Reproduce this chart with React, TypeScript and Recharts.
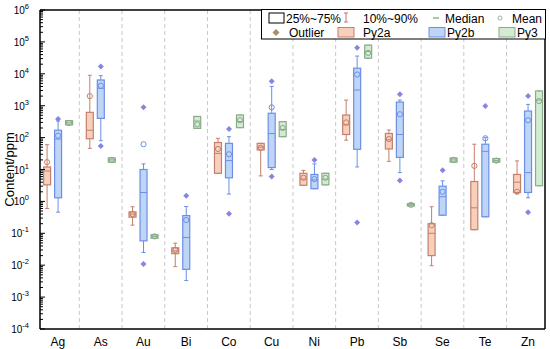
import React from 'react';
import { ComposedChart, Bar, XAxis, YAxis, ReferenceLine, Label } from 'recharts';

const categories = ['Ag', 'As', 'Au', 'Bi', 'Co', 'Cu', 'Ni', 'Pb', 'Sb', 'Se', 'Te', 'Zn'];

// each entry: [p10, q1, median, q3, p90, mean]
const py2aStats = [
  [0.6, 3.3, 9, 12, 60, 17],
  [46, 92, 170, 620, 9000, 2000],
  [0.18, 0.32, 0.4, 0.47, 0.68, 0.4],
  [0.009, 0.023, 0.028, 0.035, 0.049, 0.03],
  [7.6, 7.6, 32, 70, 95, 44],
  [6.3, 41, 50, 66, 66, 48],
  [3.2, 3.2, 5, 7.6, 9.4, 5.5],
  [83, 125, 250, 510, 1500, 300],
  [18, 44, 85, 135, 173, 90],
  [0.0096, 0.02, 0.1, 0.2, 0.68, 0.18],
  [0.13, 0.13, 0.63, 4.2, 62, 13],
  [1.8, 1.9, 4, 7, 18.6, 2],
];
const py2bStats = [
  [0.46, 1.3, 90, 170, 330, 115],
  [80, 400, 3500, 6400, 8700, 4200],
  [0.025, 0.058, 1.9, 10, 15, 62],
  [0.0033, 0.0074, 0.074, 0.36, 0.69, 0.26],
  [1.7, 5.5, 19, 66, 107, 30],
  [10, 11.5, 134, 580, 4000, 890],
  [2.5, 2.5, 4.7, 7, 15, 5],
  [12, 43, 3100, 15000, 36000, 9500],
  [8, 24, 125, 1300, 1500, 540],
  [0.37, 0.37, 1.4, 3, 4.4, 2],
  [0.33, 0.33, 37, 62, 100, 95],
  [1.3, 1.9, 8, 680, 1100, 350],
];
const py3Stats = [
  [250, 250, 290, 340, 340, 290],
  [17, 17, 20, 23, 23, 20],
  [0.07, 0.07, 0.08, 0.09, 0.09, 0.08],
  [195, 195, 330, 460, 460, 260],
  [205, 205, 320, 510, 510, 350],
  [107, 107, 180, 316, 316, 200],
  [3.3, 3.3, 5, 7.6, 7.6, 5.5],
  [31000, 31000, 50000, 79000, 79000, 45000],
  [0.72, 0.72, 0.78, 0.85, 0.85, 0.78],
  [17, 17, 20, 23, 23, 20],
  [17, 17, 19, 22, 22, 19],
  [3.1, 3.1, 1500, 2900, 2900, 1400],
];

const py2aOutliers: number[][] = [[], [], [], [], [], [], [], [], [], [], [], []];
const py2bOutliers: number[][] = [
  [380], [17000, 55], [900, 0.011], [1.5], [185, 0.41], [5800, 6],
  [20], [66000, 0.22], [2300, 4.5], [9.5], [980], [2000, 0.46],
];
const py3Outliers: number[][] = [[], [], [], [], [], [], [], [], [], [], [], []];

const yMajorTicks = [1e-4, 1e-3, 1e-2, 1e-1, 1, 10, 100, 1e3, 1e4, 1e5, 1e6];

const FONT = '"Liberation Sans", Arial, sans-serif';

const series = [
  { key: 'py2a', name: 'Py2a', stats: py2aStats, outliers: py2aOutliers, fill: '#f6d0bd', stroke: '#c4806a', out: '#a89064' },
  { key: 'py2b', name: 'Py2b', stats: py2bStats, outliers: py2bOutliers, fill: '#bfd5f6', stroke: '#6c8fe6', out: '#8585e6' },
  { key: 'py3', name: 'Py3', stats: py3Stats, outliers: py3Outliers, fill: '#d3ead3', stroke: '#8aab8a', out: '#8aab8a' },
];

const rows = categories.map((name, i) => {
  const row: any = { pos: i + 1, name };
  series.forEach((s) => {
    const st = s.stats[i];
    const all = [...st, ...s.outliers[i]];
    row[s.key] = [Math.min(...all), Math.max(...all)];
  });
  return row;
});

const yMinorTicks: number[] = [];
for (let d = -4; d <= 5; d++) {
  for (let m = 2; m <= 9; m++) yMinorTicks.push(m * Math.pow(10, d));
}
const yAllTicks = [...yMajorTicks, ...yMinorTicks].sort((a, b) => a - b);

const makeShape = (s: any) => (props: any) => {
  const { x, y, width, height, payload } = props;
  if (!payload || x == null) return <g />;
  const [lo, hi] = payload[s.key];
  const top = Math.min(y, y + height);
  const bot = Math.max(y, y + height);
  const lhi = Math.log10(hi);
  const llo = Math.log10(lo);
  const py = (v: number) => top + ((lhi - Math.log10(v)) / (lhi - llo)) * (bot - top);
  const i = payload.pos - 1;
  const [p10, q1, med, q3, p90, mean] = s.stats[i];
  const cx = x + width / 2;
  const cap = 2;
  return (
    <g>
      <line x1={cx} x2={cx} y1={py(p90)} y2={py(q3)} stroke={s.stroke} strokeWidth={1} />
      <line x1={cx} x2={cx} y1={py(q1)} y2={py(p10)} stroke={s.stroke} strokeWidth={1} />
      <line x1={cx - cap} x2={cx + cap} y1={py(p90)} y2={py(p90)} stroke={s.stroke} strokeWidth={1} />
      <line x1={cx - cap} x2={cx + cap} y1={py(p10)} y2={py(p10)} stroke={s.stroke} strokeWidth={1} />
      <rect x={x} y={py(q3)} width={width} height={Math.max(py(q1) - py(q3), 1)} fill={s.fill} stroke={s.stroke} strokeWidth={1.2} />
      <line x1={x} x2={x + width} y1={py(med)} y2={py(med)} stroke={s.stroke} strokeWidth={1} />
      <circle cx={cx} cy={py(mean)} r={2.6} fill="none" stroke={s.stroke} strokeWidth={1} />
      {s.outliers[i].map((o: number, k: number) => {
        const oy = py(o);
        const r = 3;
        return <polygon key={k} points={`${cx},${oy - r} ${cx + r},${oy} ${cx},${oy + r} ${cx - r},${oy}`} fill={s.out} />;
      })}
    </g>
  );
};

const YTick = (props: any) => {
  const { x, y, payload } = props;
  const v = payload.value;
  const lg = Math.log10(v);
  const e = Math.round(lg);
  const major = Math.abs(lg - e) < 1e-6;
  const ax = x + 7;
  return (
    <g>
      <line x1={ax} x2={ax + (major ? 5 : 3)} y1={y} y2={y} stroke="#000" strokeWidth={1} />
      {major && (
        <text x={x - 4} y={y + 4} textAnchor="end" fontSize={10} fontFamily={FONT} fill="#000">
          10
          <tspan dy={-5} fontSize={7.5}>{String(e)}</tspan>
        </text>
      )}
    </g>
  );
};

const X_MIN = 0.58;
const X_MAX = 12.4;
const separators = categories.slice(1).map((_, i) => i + 1.5);

const Legend = () => (
  <svg width={285} height={31} style={{ position: 'absolute', left: 261, top: 9 }} fontFamily={FONT} fontSize={12}>
    <rect x={0.5} y={0.5} width={284} height={29.5} fill="#fff" stroke="#000" strokeWidth={1} />
    <rect x={8} y={4} width={15} height={10} fill="none" stroke="#000" strokeWidth={1} />
    <text x={25} y={13.5}>25%~75%</text>
    <line x1={85} x2={85} y1={4} y2={13} stroke="#d46f6f" strokeWidth={1} />
    <line x1={83} x2={87} y1={4} y2={4} stroke="#d46f6f" strokeWidth={1} />
    <line x1={83} x2={87} y1={13} y2={13} stroke="#d46f6f" strokeWidth={1} />
    <text x={102} y={13.5}>10%~90%</text>
    <line x1={172} x2={178} y1={9} y2={9} stroke="#6aa86a" strokeWidth={1.2} />
    <text x={184} y={13.5}>Median</text>
    <circle cx={239} cy={9} r={2} fill="none" stroke="#aaa" strokeWidth={1} />
    <text x={251} y={13.5}>Mean</text>
    <polygon points="15,20 18.5,23.5 15,27 11.5,23.5" fill="#a89064" />
    <text x={28} y={28}>Outlier</text>
    <rect x={77} y={18.5} width={16} height={9.5} fill="#f6d0bd" stroke="#c4806a" strokeWidth={1} />
    <text x={102} y={28}>Py2a</text>
    <rect x={168} y={18.5} width={16} height={9.5} fill="#bfd5f6" stroke="#6c8fe6" strokeWidth={1} />
    <text x={186} y={28}>Py2b</text>
    <rect x={238} y={18.5} width={16} height={9.5} fill="#d3ead3" stroke="#8aab8a" strokeWidth={1} />
    <text x={256} y={28}>Py3</text>
  </svg>
);

export default function App() {
  return (
    <div style={{ position: 'absolute', left: 0, top: 0, width: 550, height: 349, background: '#fff' }}>
      <ComposedChart
        width={550}
        height={349}
        data={rows}
        margin={{ top: 10, right: 5, bottom: 0, left: 0 }}
        barSize={7}
        barGap={4}
      >
        {separators.map((s) => (
          <ReferenceLine key={s} x={s} stroke="#c8c8c8" strokeDasharray="4 3" strokeWidth={1} />
        ))}
        <XAxis
          dataKey="pos"
          type="number"
          domain={[X_MIN, X_MAX]}
          ticks={categories.map((_, i) => i + 1)}
          tickFormatter={(v: number) => categories[v - 1] ?? ''}
          allowDataOverflow
          interval={0}
          height={20}
          tickLine={false}
          axisLine={{ stroke: '#000', strokeWidth: 1.5 }}
          tick={{ fill: '#000', fontSize: 12, fontFamily: FONT }}
        />
        <YAxis
          type="number"
          scale="log"
          domain={[1e-4, 1e6]}
          ticks={yAllTicks}
          interval={0}
          allowDataOverflow
          width={40}
          tickSize={0}
          tickMargin={7}
          tickLine={false}
          axisLine={{ stroke: '#000', strokeWidth: 1.5 }}
          tick={<YTick />}
        >
          <Label
            value="Content/ppm"
            angle={-90}
            position="insideLeft"
            offset={9}
            style={{ textAnchor: 'middle', fontSize: 13, fontFamily: FONT, fill: '#000' }}
          />
        </YAxis>
        <ReferenceLine y={1e6} stroke="#000" strokeWidth={1.5} />
        <ReferenceLine x={X_MAX} stroke="#000" strokeWidth={1.5} />
        {series.map((s) => (
          <Bar
            key={s.key}
            dataKey={s.key}
            name={s.name}
            isAnimationActive={false}
            shape={makeShape(s)}
          />
        ))}
      </ComposedChart>
      <Legend />
    </div>
  );
}
